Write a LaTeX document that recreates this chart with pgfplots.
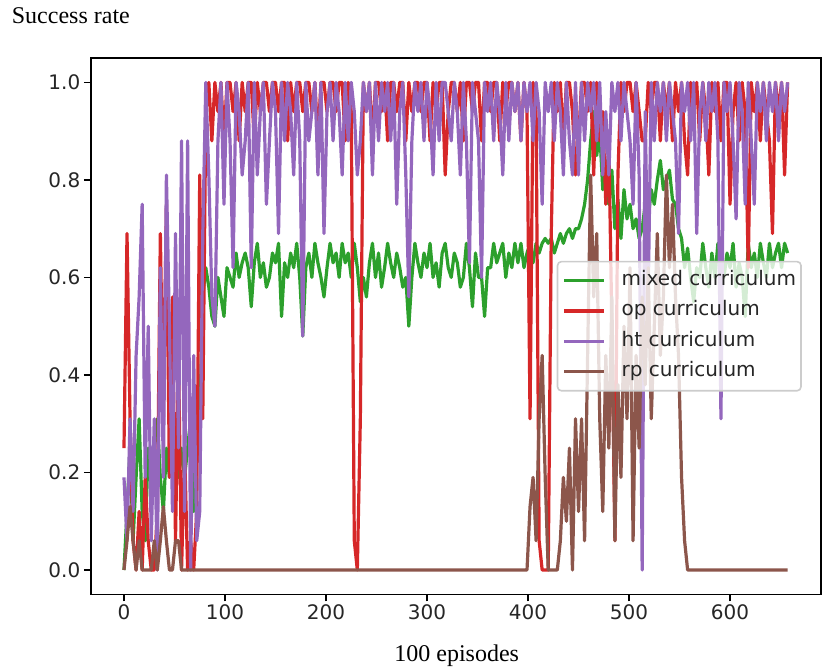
\documentclass[border=0pt]{standalone}
\usepackage{fontspec}
\setmainfont{Liberation Serif}
\newfontfamily\dejavu{DejaVu Sans}
\usepackage{pgfplots}
\usepackage{pgfplotstable}
\pgfplotsset{compat=1.18}
\definecolor{tabgreen}{HTML}{2CA02C}
\definecolor{tabred}{HTML}{D62728}
\definecolor{tabpurple}{HTML}{9467BD}
\definecolor{tabbrown}{HTML}{8C564B}
\pgfplotstableread{
ep g r p b
0 0.00 0.25 0.19 0.00
3 0.12 0.69 0.06 0.06
6 0.25 0.31 0.31 0.13
9 0.06 0.06 0.12 0.06
12 0.19 0.00 0.44 0.00
15 0.31 0.12 0.56 0.06
18 0.12 0.00 0.75 0.00
21 0.06 0.19 0.19 0.00
24 0.25 0.06 0.50 0.00
27 0.19 0.00 0.06 0.00
30 0.25 0.00 0.31 0.06
33 0.31 0.12 0.00 0.00
36 0.19 0.69 0.62 0.06
39 0.12 0.31 0.19 0.13
42 0.25 0.75 0.81 0.06
45 0.19 0.19 0.50 0.00
48 0.31 0.56 0.12 0.00
51 0.25 0.06 0.69 0.06
54 0.19 0.44 0.25 0.06
57 0.25 0.00 0.88 0.00
60 0.19 0.25 0.12 0.00
63 0.25 0.00 0.88 0.00
66 0.31 0.06 0.00 0.00
69 0.12 0.00 0.44 0.00
72 0.25 0.12 0.06 0.00
75 0.31 0.81 0.12 0.00
78 0.56 0.31 0.69 0.00
81 0.62 0.94 1.00 0.00
84 0.58 1.00 0.81 0.00
87 0.52 0.88 0.56 0.00
90 0.50 1.00 0.50 0.00
93 0.60 0.94 0.88 0.00
96 0.56 1.00 1.00 0.00
99 0.52 0.88 0.75 0.00
102 0.62 1.00 1.00 0.00
105 0.60 1.00 0.88 0.00
108 0.58 0.94 0.62 0.00
111 0.65 1.00 1.00 0.00
114 0.60 0.88 0.94 0.00
117 0.63 1.00 0.81 0.00
120 0.65 0.94 0.88 0.00
123 0.62 1.00 1.00 0.00
126 0.54 1.00 0.62 0.00
129 0.63 0.88 1.00 0.00
132 0.67 1.00 0.81 0.00
135 0.60 0.94 0.94 0.00
138 0.63 1.00 1.00 0.00
141 0.58 1.00 0.75 0.00
144 0.60 0.94 0.88 0.00
147 0.65 1.00 1.00 0.00
150 0.63 1.00 0.94 0.00
153 0.67 0.94 0.69 0.00
156 0.52 1.00 1.00 0.00
159 0.63 1.00 0.88 0.00
162 0.60 0.88 1.00 0.00
165 0.65 1.00 0.94 0.00
168 0.62 0.94 0.81 0.00
171 0.67 1.00 1.00 0.00
174 0.60 1.00 0.88 0.00
177 0.48 0.94 0.48 0.00
180 0.62 1.00 1.00 0.00
183 0.65 1.00 0.88 0.00
186 0.60 0.94 0.94 0.00
189 0.67 1.00 1.00 0.00
192 0.63 0.88 0.81 0.00
195 0.60 1.00 1.00 0.00
198 0.56 1.00 0.69 0.00
201 0.62 0.94 0.94 0.00
204 0.67 1.00 1.00 0.00
207 0.63 1.00 0.88 0.00
210 0.65 0.94 1.00 0.00
213 0.60 1.00 0.94 0.00
216 0.67 1.00 0.81 0.00
219 0.63 0.88 1.00 0.00
222 0.65 1.00 0.88 0.00
225 0.60 0.94 1.00 0.00
228 0.67 0.06 0.94 0.00
231 0.62 0.00 0.81 0.00
234 0.55 0.31 0.88 0.00
237 0.60 1.00 1.00 0.00
240 0.56 0.94 0.94 0.00
243 0.63 1.00 1.00 0.00
246 0.67 0.88 0.81 0.00
249 0.60 1.00 1.00 0.00
252 0.65 1.00 0.88 0.00
255 0.58 0.94 1.00 0.00
258 0.62 1.00 0.94 0.00
261 0.67 0.88 1.00 0.00
264 0.63 1.00 0.88 0.00
267 0.60 1.00 1.00 0.00
270 0.65 0.94 0.75 0.00
273 0.62 1.00 0.94 0.00
276 0.58 1.00 1.00 0.00
279 0.60 0.88 0.81 0.00
282 0.50 1.00 0.56 0.00
285 0.60 0.94 0.88 0.00
288 0.67 1.00 1.00 0.00
291 0.63 1.00 0.94 0.00
294 0.60 0.94 1.00 0.00
297 0.65 1.00 0.88 0.00
300 0.62 1.00 1.00 0.00
303 0.67 0.88 0.94 0.00
306 0.60 1.00 0.81 0.00
309 0.63 0.94 1.00 0.00
312 0.58 1.00 0.88 0.00
315 0.65 1.00 1.00 0.00
318 0.67 0.81 1.00 0.00
321 0.62 0.94 0.94 0.00
324 0.60 1.00 0.88 0.00
327 0.65 1.00 1.00 0.00
330 0.63 0.94 0.94 0.00
333 0.58 1.00 0.81 0.00
336 0.60 0.88 1.00 0.00
339 0.67 1.00 0.88 0.00
342 0.62 1.00 0.63 0.00
345 0.54 0.94 1.00 0.00
348 0.65 1.00 0.94 0.00
351 0.60 1.00 0.88 0.00
354 0.60 0.88 0.60 0.00
357 0.52 1.00 1.00 0.00
360 0.62 1.00 0.94 0.00
363 0.62 0.94 1.00 0.00
366 0.67 1.00 0.88 0.00
369 0.63 1.00 1.00 0.00
372 0.65 0.88 0.94 0.00
375 0.67 1.00 0.81 0.00
378 0.60 0.94 1.00 0.00
381 0.65 1.00 0.88 0.00
384 0.62 1.00 1.00 0.00
387 0.67 0.94 0.94 0.00
390 0.63 1.00 1.00 0.00
393 0.67 0.88 0.88 0.00
396 0.62 1.00 1.00 0.00
399 0.65 0.94 0.94 0.00
402 0.67 0.31 1.00 0.13
405 0.63 1.00 0.88 0.19
408 0.67 0.94 1.00 0.06
411 0.65 0.06 0.94 0.31
414 0.67 0.00 0.75 0.44
417 0.68 0.00 1.00 0.19
420 0.67 0.00 0.94 0.00
423 0.68 0.69 1.00 0.00
426 0.65 1.00 0.88 0.00
429 0.67 0.94 1.00 0.00
432 0.69 1.00 0.94 0.06
435 0.67 0.88 0.81 0.19
438 0.69 1.00 1.00 0.10
441 0.70 1.00 0.88 0.25
444 0.68 0.94 0.81 0.00
447 0.70 0.81 1.00 0.31
450 0.70 0.88 0.81 0.12
453 0.72 1.00 1.00 0.31
456 0.75 1.00 0.88 0.06
459 0.80 0.94 1.00 0.44
462 0.88 1.00 0.94 0.81
465 0.94 0.81 1.00 0.56
468 0.85 1.00 0.88 0.69
471 0.90 0.88 1.00 0.31
474 0.78 0.94 0.81 0.12
477 0.84 0.75 0.94 0.44
480 0.75 0.88 0.81 0.25
483 0.82 0.50 1.00 0.56
486 0.70 0.06 0.94 0.06
489 0.76 0.81 1.00 0.38
492 0.68 1.00 0.88 0.19
495 0.78 0.94 1.00 0.50
498 0.72 1.00 0.94 0.31
501 0.75 1.00 0.88 0.62
504 0.70 0.94 0.75 0.06
507 0.72 1.00 1.00 0.44
510 0.68 0.94 0.81 0.25
513 0.70 0.88 0.00 0.56
516 0.75 0.88 0.94 0.38
519 0.72 1.00 0.56 0.62
522 0.78 0.94 1.00 0.31
525 0.75 1.00 0.88 0.50
528 0.80 1.00 1.00 0.69
531 0.84 0.88 0.94 0.44
534 0.78 1.00 1.00 0.56
537 0.80 0.94 0.88 0.81
540 0.82 1.00 1.00 0.62
543 0.76 0.88 0.94 0.75
546 0.75 1.00 0.88 0.56
549 0.70 0.94 0.69 0.44
552 0.68 1.00 1.00 0.19
555 0.62 0.88 0.94 0.06
558 0.66 0.81 1.00 0.00
561 0.60 1.00 0.88 0.00
564 0.55 0.94 1.00 0.00
567 0.62 1.00 0.69 0.00
570 0.60 0.88 0.94 0.00
573 0.67 1.00 1.00 0.00
576 0.62 0.94 0.88 0.00
579 0.58 0.81 1.00 0.00
582 0.65 1.00 0.94 0.00
585 0.60 0.94 1.00 0.00
588 0.67 1.00 0.88 0.00
591 0.62 0.88 0.31 0.00
594 0.60 1.00 1.00 0.00
597 0.65 1.00 0.94 0.00
600 0.62 0.75 1.00 0.00
603 0.67 0.94 0.88 0.00
606 0.58 1.00 0.72 0.00
609 0.63 0.88 1.00 0.00
612 0.60 1.00 0.94 0.00
615 0.52 0.94 0.75 0.00
618 0.67 0.62 1.00 0.00
621 0.62 1.00 0.88 0.00
624 0.65 0.94 0.75 0.00
627 0.60 1.00 1.00 0.00
630 0.67 0.88 0.94 0.00
633 0.63 1.00 1.00 0.00
636 0.60 0.94 0.88 0.00
639 0.67 0.88 1.00 0.00
642 0.62 0.69 0.94 0.00
645 0.65 1.00 1.00 0.00
648 0.67 0.94 0.88 0.00
651 0.62 1.00 1.00 0.00
654 0.67 0.81 0.94 0.00
657 0.65 1.00 1.00 0.00
}\datatable

\begin{document}
\begin{tikzpicture}
\path[use as bounding box] (0,0) rectangle (823pt,671pt);
\begin{axis}[
  at={(90.8pt,76.6pt)}, anchor=south west,
  scale only axis, width=730pt, height=536.4pt,
  xmin=-32.85, xmax=689.85, ymin=-0.05, ymax=1.05,
  xtick={0,100,200,300,400,500,600},
  ytick={0,0.2,0.4,0.6,0.8,1},
  yticklabel style={/pgf/number format/.cd, fixed, fixed zerofill, precision=1},
  /pgf/number format/assume math mode=true,
  tick pos=left, tick align=outside,
  major tick length=7pt,
  major tick style={black, line width=1.6pt},
  axis line style={black, line width=1.6pt},
  ticklabel style={font=\dejavu\fontsize{20}{24}\selectfont, text=black!85},
  legend cell align=left,
  legend image code/.code={\draw[#1] (0pt,0pt) -- (40pt,0pt);},
  legend style={at={(0.974,0.5)}, anchor=east,
    draw=black!20, line width=1.6pt, fill=white, fill opacity=0.8,
    draw opacity=1, text opacity=1, rounded corners=4pt,
    inner xsep=5pt, inner ysep=9pt, row sep=10.4pt, column sep=16pt,
    font=\dejavu\fontsize{20}{24}\selectfont, text=black!85,
    nodes={inner sep=0pt, text height=15pt, text depth=5pt}},
  every axis plot/.append style={sharp plot, line width=3.2pt, line join=round},
]
\addplot[tabgreen] table[x=ep, y=g] {\datatable};
\addlegendentry{mixed curriculum}
\addplot[tabred] table[x=ep, y=r] {\datatable};
\addlegendentry{op curriculum}
\addplot[tabpurple] table[x=ep, y=p] {\datatable};
\addlegendentry{ht curriculum}
\addplot[tabbrown] table[x=ep, y=b] {\datatable};
\addlegendentry{rp curriculum}
\end{axis}
\node[anchor=base west, inner sep=0pt, font=\fontsize{24}{28}\selectfont] at (11.7pt,647.7pt) {Success rate};
\node[anchor=base, inner sep=0pt, font=\fontsize{24}{28}\selectfont] at (456.7pt,9.3pt) {100 episodes};
\end{tikzpicture}
\end{document}
